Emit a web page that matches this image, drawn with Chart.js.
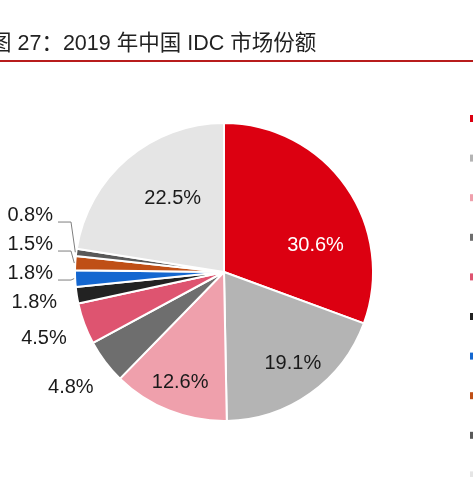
<!DOCTYPE html>
<html>
<head>
<meta charset="utf-8">
<script src="https://cdn.jsdelivr.net/npm/chart.js@4"></script>
<style>
  html, body { margin: 0; padding: 0; background: #fff; overflow: hidden; }
  #wrap { position: relative; width: 473px; height: 477px; }
  #title {
    position: absolute; left: -10px; top: 33px; white-space: nowrap;
    font: 21.5px/21px "Liberation Sans", "Noto Sans CJK SC", sans-serif; color: #222;
  }
  #rule { position: absolute; left: 0; top: 60px; width: 473px; height: 2px; background: #b81c1c; }
  #myChart { position: absolute; left: 0; top: 0; }
</style>
</head>
<body>
<div id="wrap">
  <canvas id="myChart" width="473" height="477"></canvas>
  <div id="title">图 27：2019 年中国 IDC 市场份额</div>
  <div id="rule"></div>
</div>
<script>
// data
const companies = ['中国电信', '中国联通', '中国移动', '万国数据', '世纪互联', '光环新网', '宝信软件', '数据港', '奥飞数据', '其他'];
const shares = [30.6, 19.1, 12.6, 4.8, 4.5, 1.8, 1.8, 1.5, 0.8, 22.5];
const sliceColors = ['#DC0011', '#B4B4B4', '#EFA0AC', '#6E6E6E', '#DE5470', '#222222', '#1467D0', '#BF4F16', '#595959', '#E5E5E5'];

const FONT = '"Liberation Sans", Arial, sans-serif';

// labels in the slices and outside with leader lines
const pieLabels = {
    id: 'pieLabels',
    afterDatasetsDraw(chart, args, opts) {
        const ctx = chart.ctx;
        const arcs = chart.getDatasetMeta(0).data;
        ctx.save();
        ctx.font = '20px ' + FONT;
        ctx.textBaseline = 'middle';
        let prevY = null;
        arcs.forEach((arc, i) => {
            const p = arc.getProps(['x', 'y', 'startAngle', 'endAngle', 'outerRadius'], true);
            const mid = (p.startAngle + p.endAngle) / 2;
            const text = shares[i].toFixed(1) + '%';
            if (shares[i] >= 10) {
                const nudge = opts.inside[i] || [0, 0.7];
                const a = mid + nudge[0] * Math.PI / 180;
                const r = p.outerRadius * nudge[1];
                ctx.fillStyle = i === 0 ? '#fff' : '#1a1a1a';
                ctx.textAlign = 'center';
                ctx.fillText(text, p.x + r * Math.cos(a), p.y + r * Math.sin(a));
                return;
            }
            let ly = p.y + opts.outsideR * Math.sin(mid);
            const lx = p.x + opts.outsideR * Math.cos(mid);
            ctx.fillStyle = '#1a1a1a';
            if (prevY !== null && prevY - ly < opts.gap) {
                // too close to the label below: stack it and draw a leader line
                ly = prevY - opts.gap;
                ctx.textAlign = 'right';
                ctx.fillText(text, opts.leaderX - 5, ly);
                const ex = p.x + (p.outerRadius + 1) * Math.cos(mid);
                const ey = p.y + (p.outerRadius + 1) * Math.sin(mid);
                ctx.strokeStyle = '#7f7f7f';
                ctx.lineWidth = 1;
                ctx.beginPath();
                ctx.moveTo(opts.leaderX, ly + 7);
                ctx.lineTo(opts.elbowX, ly + 7);
                ctx.lineTo(ex, ey);
                ctx.stroke();
            } else {
                ctx.textAlign = 'center';
                ctx.fillText(text, lx, ly);
            }
            prevY = ly;
        });
        ctx.restore();
    }
};

// legend cut off at the right edge, like the reference
const sideLegend = {
    id: 'sideLegend',
    afterDraw(chart, args, opts) {
        const ctx = chart.ctx;
        ctx.save();
        ctx.font = '16px "Noto Sans CJK SC", sans-serif';
        ctx.textBaseline = 'middle';
        ctx.textAlign = 'left';
        companies.forEach((name, i) => {
            const y = opts.top + i * opts.step;
            ctx.fillStyle = sliceColors[i];
            ctx.fillRect(opts.x, y - 3, 7, 7);
            ctx.fillStyle = '#222';
            ctx.fillText(name, opts.x + 14, y);
        });
        ctx.restore();
    }
};

const config = {
    type: 'pie',
    data: {
        labels: companies,
        datasets: [{
            data: shares,
            backgroundColor: sliceColors,
            borderColor: '#ffffff',
            borderWidth: 2
        }]
    },
    options: {
        responsive: false,
        animation: false,
        layout: { padding: { left: 74, right: 99, top: 122, bottom: 55 } },
        plugins: {
            legend: { display: false },
            tooltip: { enabled: false },
            pieLabels: {
                inside: { 0: [18.6, 0.64], 1: [-1.4, 0.77], 2: [0, 0.8], 9: [5.5, 0.6] },
                outsideR: 192,
                gap: 29,
                leaderX: 58,
                elbowX: 71
            },
            sideLegend: { x: 470, top: 118, step: 39.6 }
        }
    },
    plugins: [pieLabels, sideLegend]
};

const myChart = new Chart(document.getElementById('myChart'), config);
</script>
</body>
</html>
